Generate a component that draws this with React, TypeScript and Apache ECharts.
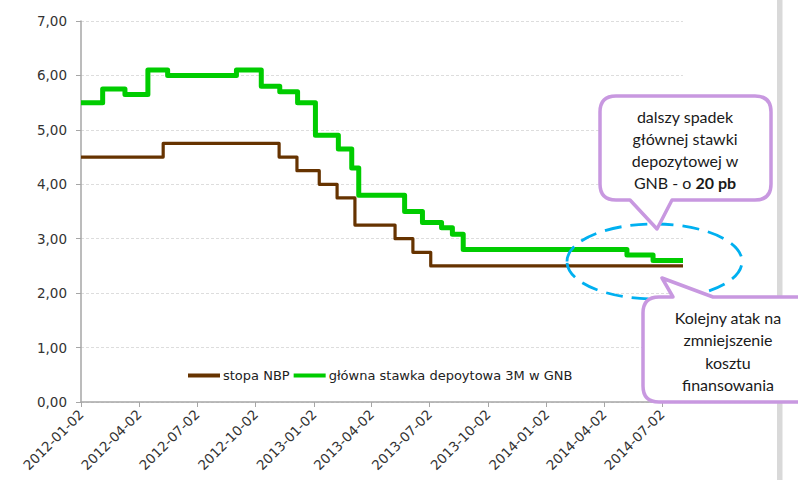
import React, { useEffect, useRef } from "react";
import * as echarts from "echarts";

const startDate = "2012-01-02";
const endDate = "2014-08-04";

const nbpDates = ["2012-01-02", "2012-05-10", "2012-11-08", "2012-12-06", "2013-01-10", "2013-02-07", "2013-03-07", "2013-05-09", "2013-06-06", "2013-07-04", "2014-08-04"];
const nbpValues = [4.5, 4.75, 4.5, 4.25, 4.0, 3.75, 3.25, 3.0, 2.75, 2.5, 2.5];

const gnbDates = ["2012-01-02", "2012-02-05", "2012-03-11", "2012-04-16", "2012-05-17", "2012-09-02", "2012-10-11", "2012-11-09", "2012-12-07", "2013-01-04", "2013-02-09", "2013-03-02", "2013-03-13", "2013-05-24", "2013-06-21", "2013-07-21", "2013-08-07", "2013-08-24", "2014-05-08", "2014-06-18", "2014-08-04"];
const gnbValues = [5.5, 5.75, 5.65, 6.1, 6.0, 6.1, 5.8, 5.7, 5.5, 4.9, 4.65, 4.3, 3.8, 3.5, 3.3, 3.2, 3.08, 2.8, 2.7, 2.6, 2.6];

const seriesNames = ["stopa NBP", "główna stawka depoytowa 3M w GNB"];

const callout1Lines = "dalszy spadek\ngłównej stawki\ndepozytowej w\nGNB - o {b|20 pb}";
const callout2Lines = "Kolejny atak na\nzmniejszenie\nkosztu\nfinansowania";

function buildDays(): string[] {
  const out: string[] = [];
  const s = Date.parse(startDate + "T00:00:00Z");
  const e = Date.parse(endDate + "T00:00:00Z");
  for (let t = s; t <= e; t += 86400000) {
    out.push(new Date(t).toISOString().slice(0, 10));
  }
  return out;
}

const c1 = (() => {
  const L = 600, R = 771, T = 96, B = 200, r = 16;
  return `M${L + r},${T} H${R - r} Q${R},${T} ${R},${T + r} V${B - r} Q${R},${B} ${R - r},${B} H672 L657,229 L630,${B} H${L + r} Q${L},${B} ${L},${B - r} V${T + r} Q${L},${T} ${L + r},${T} Z`;
})();
const c2 = (() => {
  const L = 643, R = 840, T = 297, B = 402, r = 16;
  return `M${L + r},${T} H673 L662,278 L713,${T} H${R - r} Q${R},${T} ${R},${T + r} V${B - r} Q${R},${B} ${R - r},${B} H${L + r} Q${L},${B} ${L},${B - r} V${T + r} Q${L},${T} ${L + r},${T} Z`;
})();
echarts.graphic.registerShape("callout1", echarts.graphic.extendPath(c1, {}) as any);
echarts.graphic.registerShape("callout2", echarts.graphic.extendPath(c2, {}) as any);

const isQuarterTick = (_i: number, v: string) => /-(01|04|07|10)-02$/.test(v);

export default function App() {
  const ref = useRef<HTMLDivElement>(null);
  useEffect(() => {
    if (!ref.current) return;
    const chart = echarts.init(ref.current, null, { renderer: "svg" });
    const days = buildDays();
    const font = "DejaVu Sans";
    const calloutFont = "Lato";
    chart.setOption({
      animation: false,
      backgroundColor: "#ffffff",
      grid: { left: 81, right: 115, top: 21, bottom: 78, containLabel: false },
      xAxis: {
        type: "category",
        data: days,
        boundaryGap: false,
        axisLine: { show: true, lineStyle: { color: "#a6a6a6", width: 1.5 } },
        axisTick: { show: true, interval: isQuarterTick, length: 5, lineStyle: { color: "#a6a6a6" } },
        axisLabel: {
          interval: isQuarterTick,
          rotate: 45,
          margin: 10,
          fontFamily: font,
          fontSize: 13.5,
          color: "#333333",
        },
        splitLine: { show: false },
      },
      yAxis: {
        type: "value",
        min: 0,
        max: 7,
        interval: 1,
        axisLine: { show: true, lineStyle: { color: "#a6a6a6", width: 1.5 } },
        axisTick: { show: true, length: 5, lineStyle: { color: "#a6a6a6" } },
        axisLabel: {
          margin: 14,
          fontFamily: font,
          fontSize: 13.5,
          color: "#333333",
          formatter: (v: number) => v.toFixed(2).replace(".", ","),
        },
        splitLine: { show: true, lineStyle: { color: "#dddddd", type: [3, 2] } },
      },
      legend: {
        left: 183,
        top: 364,
        icon: "rect",
        itemWidth: 32,
        itemHeight: 4,
        itemGap: 4,
        textStyle: { fontFamily: font, fontSize: 13, color: "#222222", padding: [0, 0, 0, -2] },
        data: seriesNames,
      },
      series: [
        {
          name: seriesNames[0],
          type: "line",
          step: "end",
          symbol: "none",
          lineStyle: { color: "#663300", width: 3.2, join: "round" },
          itemStyle: { color: "#663300" },
          data: nbpDates.map((d, i) => [d, nbpValues[i]]),
          z: 3,
        },
        {
          name: seriesNames[1],
          type: "line",
          step: "end",
          symbol: "none",
          lineStyle: { color: "#00cc00", width: 5, join: "round" },
          itemStyle: { color: "#00cc00" },
          data: gnbDates.map((d, i) => [d, gnbValues[i]]),
          z: 2,
        },
      ],
      graphic: [
        {
          type: "rect",
          z: 50,
          shape: { x: 777, y: 0, width: 5.5, height: 480 },
          style: { fill: "#d9d9d9" },
        },
        {
          type: "ellipse",
          z: 100,
          shape: { cx: 654.5, cy: 261.5, rx: 87.5, ry: 37.5 },
          style: { fill: "none", stroke: "#00b0f0", lineWidth: 2.8, lineDash: [17, 9] },
        },
        {
          type: "callout1",
          z: 110,
          x: 0,
          y: 0,
          style: { fill: "#ffffff", stroke: "#c898e0", lineWidth: 3.5, lineJoin: "round" },
        },
        {
          type: "callout2",
          z: 110,
          x: 0,
          y: 0,
          style: { fill: "#ffffff", stroke: "#c898e0", lineWidth: 3.5, lineJoin: "round" },
        },
        {
          type: "text",
          z: 120,
          x: 685,
          y: 149,
          style: {
            text: callout1Lines,
            fontFamily: calloutFont,
            fontSize: 16,
            lineHeight: 22,
            fill: "#1a1a1a",
            align: "center",
            verticalAlign: "middle",
            rich: {
              b: { fontFamily: calloutFont, fontSize: 16, fontWeight: "bold", lineHeight: 22, fill: "#1a1a1a" },
            },
          },
        },
        {
          type: "text",
          z: 120,
          x: 728,
          y: 351,
          style: {
            text: callout2Lines,
            fontFamily: calloutFont,
            fontSize: 16,
            lineHeight: 22.5,
            fill: "#1a1a1a",
            align: "center",
            verticalAlign: "middle",
          },
        },
      ],
    });
    return () => chart.dispose();
  }, []);
  return (
    <div
      ref={ref}
      style={{ position: "fixed", left: 0, top: 0, width: 798, height: 480 }}
    />
  );
}
